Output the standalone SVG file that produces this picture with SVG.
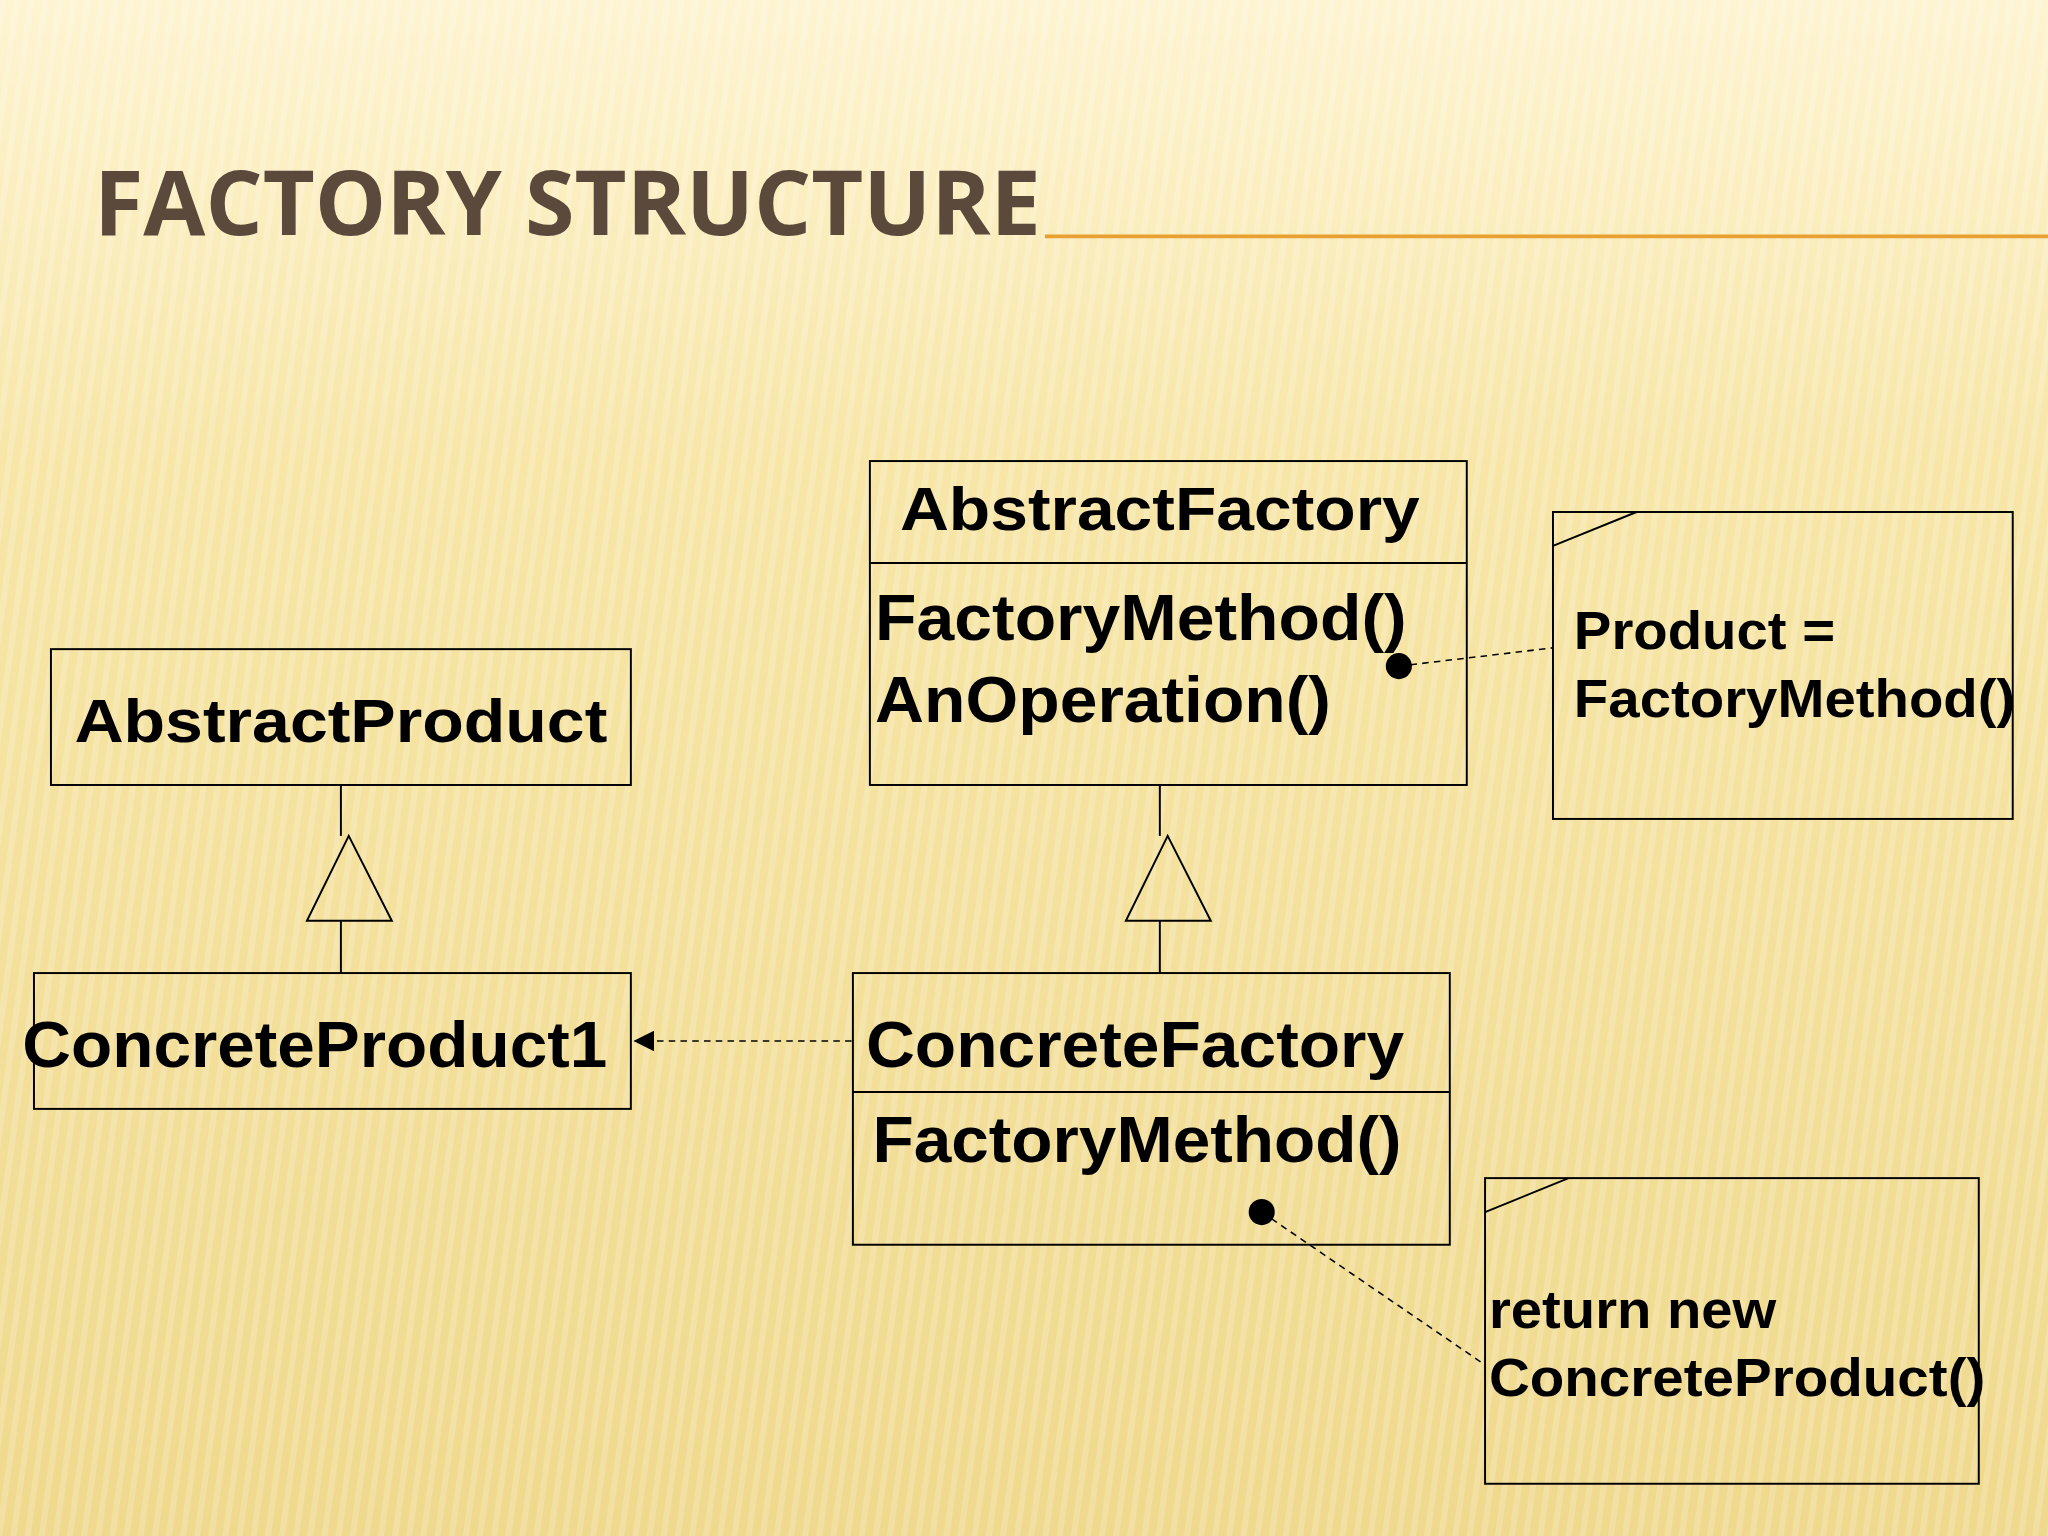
<svg xmlns="http://www.w3.org/2000/svg" width="2048" height="1536" viewBox="0 0 2048 1536">
<defs>
<linearGradient id="bg" x1="0" y1="0" x2="0" y2="1">
<stop offset="0" stop-color="#fdf4d2"/><stop offset="0.3" stop-color="#f7e6a8"/><stop offset="1" stop-color="#efd98e"/>
</linearGradient>
<pattern id="stripes" width="14" height="14" patternUnits="userSpaceOnUse" patternTransform="rotate(8)">
<rect width="6" height="14" fill="#ffffff" opacity="0.18"/>
</pattern>
<marker id="arr" markerWidth="16" markerHeight="16" refX="15" refY="8" orient="auto" markerUnits="userSpaceOnUse">
<path d="M0,0 L16,8 L0,16 Z" fill="#000"/>
</marker>
</defs>
<style>
.box{fill:none;stroke:#000;stroke-width:1.5}
.t{font-family:"Liberation Sans",Arial,sans-serif;font-weight:bold;fill:#000}
.dash{stroke:#000;stroke-width:1.2;stroke-dasharray:5,4;fill:none}
.ln{stroke:#000;stroke-width:1.5;fill:none}
</style>
<rect width="2048" height="1536" fill="url(#bg)"/>
<rect width="2048" height="1536" fill="url(#stripes)"/>
<g transform="scale(1.30612)">
<g id="title">
<text x="72" y="180" font-family="'Open Sans','Liberation Sans',sans-serif" font-weight="bold" font-size="68" fill="#5b4a3c" textLength="725" lengthAdjust="spacingAndGlyphs">FACTORY STRUCTURE</text>
<line x1="800" y1="181" x2="1568" y2="181" stroke="#e8a030" stroke-width="3"/>
</g>
<g id="AbstractProduct">
<rect class="box" x="39" y="497" width="444" height="104"/>
<text class="t" x="57" y="568" font-size="47" textLength="408" lengthAdjust="spacingAndGlyphs">AbstractProduct</text>
</g>
<g id="ConcreteProduct1">
<rect class="box" x="26" y="745" width="457" height="104"/>
<text class="t" x="17" y="817" font-size="49" textLength="448" lengthAdjust="spacingAndGlyphs">ConcreteProduct1</text>
</g>
<g id="AbstractFactory">
<rect class="box" x="666" y="353" width="457" height="248"/>
<line class="ln" x1="666" y1="431" x2="1123" y2="431"/>
<text class="t" x="689" y="406" font-size="47" textLength="398" lengthAdjust="spacingAndGlyphs">AbstractFactory</text>
<text class="t" x="670" y="490" font-size="50" textLength="407" lengthAdjust="spacingAndGlyphs">FactoryMethod()</text>
<text class="t" x="670" y="553" font-size="50" textLength="349" lengthAdjust="spacingAndGlyphs">AnOperation()</text>
</g>
<g id="ConcreteFactory">
<rect class="box" x="653" y="745" width="457" height="208"/>
<line class="ln" x1="653" y1="836" x2="1110" y2="836"/>
<text class="t" x="663" y="817" font-size="49" textLength="412" lengthAdjust="spacingAndGlyphs">ConcreteFactory</text>
<text class="t" x="668" y="890" font-size="49" textLength="405" lengthAdjust="spacingAndGlyphs">FactoryMethod()</text>
</g>
<g id="Note1">
<rect class="box" x="1189" y="392" width="352" height="235"/>
<line class="ln" x1="1189" y1="418" x2="1253" y2="392"/>
<text class="t" x="1205" y="497" font-size="41" textLength="200" lengthAdjust="spacingAndGlyphs">Product =</text>
<text class="t" x="1205" y="549" font-size="41" textLength="338" lengthAdjust="spacingAndGlyphs">FactoryMethod()</text>
</g>
<g id="Note2">
<rect class="box" x="1137" y="902" width="378" height="234"/>
<line class="ln" x1="1137" y1="928" x2="1201" y2="902"/>
<text class="t" x="1140" y="1017" font-size="41" textLength="220" lengthAdjust="spacingAndGlyphs">return new</text>
<text class="t" x="1140" y="1069" font-size="41" textLength="380" lengthAdjust="spacingAndGlyphs">ConcreteProduct()</text>
</g>
<g id="connectors">
<line class="ln" x1="261" y1="601" x2="261" y2="640"/>
<path class="ln" d="M267,640 L235,705 L300,705 Z"/>
<line class="ln" x1="261" y1="705" x2="261" y2="745"/>
<line class="ln" x1="888" y1="601" x2="888" y2="640"/>
<path class="ln" d="M894,640 L862,705 L927,705 Z"/>
<line class="ln" x1="888" y1="705" x2="888" y2="745"/>
<line class="dash" x1="652" y1="797" x2="486" y2="797" marker-end="url(#arr)"/>
<circle cx="1071" cy="510" r="10" fill="#000"/>
<line class="dash" x1="1071" y1="510" x2="1189" y2="496"/>
<circle cx="966" cy="928" r="10" fill="#000"/>
<line class="dash" x1="966" y1="928" x2="1137" y2="1045"/>
</g>
</g>
</svg>
